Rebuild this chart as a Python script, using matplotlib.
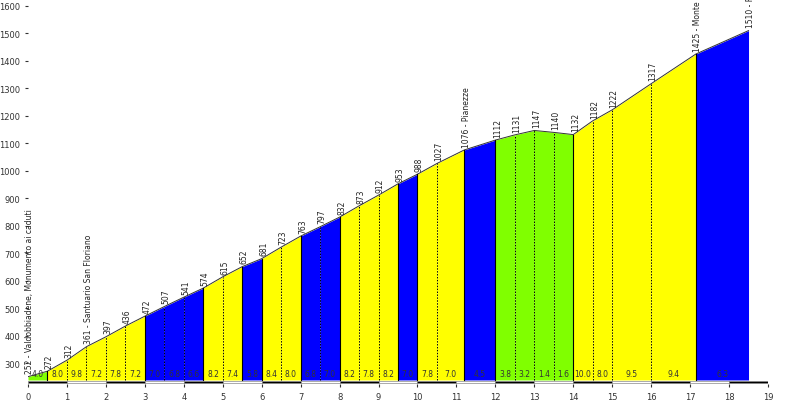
import matplotlib
matplotlib.use("Agg")
import matplotlib.pyplot as plt

km = [0, 0.5, 1, 1.5, 2, 2.5, 3, 3.5, 4, 4.5, 5, 5.5, 6, 6.5, 7, 7.5, 8, 8.5, 9, 9.5, 10, 10.5, 11.2, 12, 12.5, 13, 13.5, 14, 14.5, 15, 16, 17.15, 18.5]
elev = [252, 272, 312, 361, 397, 436, 472, 507, 541, 574, 615, 652, 681, 723, 763, 797, 832, 873, 912, 953, 988, 1027, 1076, 1112, 1131, 1147, 1140, 1132, 1182, 1222, 1317, 1425, 1510]
point_names = {0: "252 - Valdobbiadene, Monumento ai caduti", 3: "361 - Santuario San Floriano",
               22: "1076 - Pianezze", 31: "1425 - Monte Be", 32: "1510 - R"}
grades = ["4.0", "8.0", "9.8", "7.2", "7.8", "7.2", "7.0", "6.8", "6.6", "8.2", "7.4", "5.8", "8.4", "8.0", "6.8", "7.0",
          "8.2", "7.8", "8.2", "7.0", "7.8", "7.0", "4.5", "3.8", "3.2", "1.4", "1.6", "10.0", "8.0", "9.5", "9.4", "6.3"]
seg_colors = ["g", "y", "y", "y", "y", "y", "b", "b", "b", "y", "y", "b", "y", "y", "b", "b",
              "y", "y", "y", "b", "y", "y", "b", "g", "g", "g", "g", "y", "y", "y", "y", "b"]
cmap = {"g": "#80ff00", "y": "#ffff00", "b": "#0000ff"}

fig = plt.figure(figsize=(8, 4.02), dpi=100)
ax = fig.add_axes([0.035, 0.042, 0.925, 0.941])
base = 240
for i in range(len(km) - 1):
    ax.fill_between(km[i:i + 2], [base, base], elev[i:i + 2], color=cmap[seg_colors[i]], lw=0)
    ax.text((km[i] + km[i + 1]) / 2, 262, grades[i], ha="center", va="center", fontsize=5.5, color="#333333")
ax.plot(km, elev, color="#333333", lw=0.7)
for i in range(1, len(km) - 1):
    solid = seg_colors[i - 1] != seg_colors[i]
    ax.plot([km[i], km[i]], [base, elev[i]], color="black", lw=0.8 if solid else 0.7,
            ls="-" if solid else (0, (1.5, 1.5)))
for i, (x, e) in enumerate(zip(km, elev)):
    label = point_names.get(i, str(e))
    ax.text(x + 0.05, e + 12, label, rotation=90, ha="center", va="bottom", fontsize=5.5, color="#222222")
for k in range(19):
    ax.add_patch(plt.Rectangle((k, 228), 1, 10, facecolor="black" if k % 2 == 0 else "white",
                               edgecolor="#888888", lw=0.5))
ax.set_xlim(0, 19)
ax.set_ylim(225, 1600)
ax.set_xticks(range(20))
ax.set_yticks(range(300, 1601, 100))
ax.tick_params(labelsize=6, length=2, colors="#333333")
for s in ax.spines.values():
    s.set_visible(False)
fig.savefig("out.png", dpi=100)
